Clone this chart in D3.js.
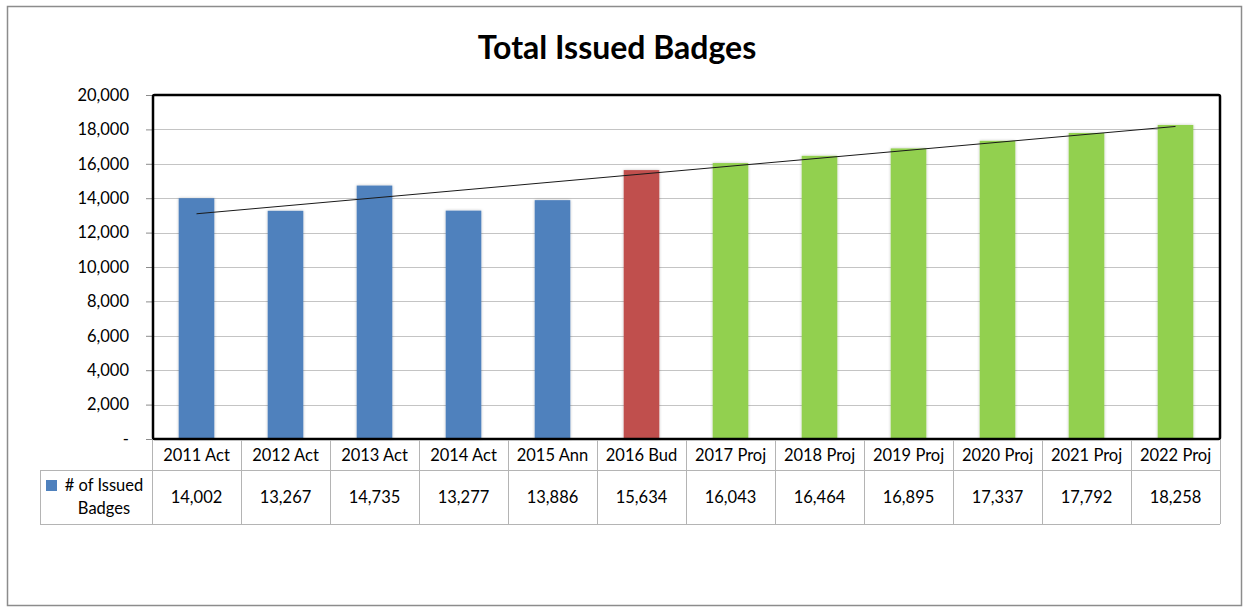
<!DOCTYPE html>
<html>
<head>
<meta charset="utf-8">
<script src="https://cdn.jsdelivr.net/npm/d3@7/dist/d3.min.js"></script>
<style>
  body { margin: 0; background: #fff; }
  svg { display: block; font-family: Lato, "Open Sans", sans-serif; }
</style>
</head>
<body>
<svg id="chart" width="1243" height="607"></svg>
<script>
// chart data
var categories = ['2011 Act', '2012 Act', '2013 Act', '2014 Act', '2015 Ann', '2016 Bud',
  '2017 Proj', '2018 Proj', '2019 Proj', '2020 Proj', '2021 Proj', '2022 Proj'];
var badges = [14002, 13267, 14735, 13277, 13886, 15634, 16043, 16464, 16895, 17337, 17792, 18258];
var kinds = ['act', 'act', 'act', 'act', 'act', 'bud', 'proj', 'proj', 'proj', 'proj', 'proj', 'proj'];
var yTicks = [0, 2000, 4000, 6000, 8000, 10000, 12000, 14000, 16000, 18000, 20000];
var seriesName = ['# of Issued', 'Badges'];

var colors = { act: '#4f81bd', bud: '#c0504d', proj: '#92d050' };
var fs = 16.5;

var svg = d3.select('#chart');

// outer chart frame
svg.append('rect')
    .attr('x', 7.5).attr('y', 6.5)
    .attr('width', 1234).attr('height', 599)
    .attr('fill', '#fff')
    .attr('stroke', '#8c8c8c')
    .attr('stroke-width', 1.5);

svg.append('text')
    .attr('x', 617).attr('y', 59)
    .attr('text-anchor', 'middle')
    .attr('font-size', 32)
    .attr('font-weight', 'bold')
    .text('Total Issued Badges');

var plot = { left: 152, top: 95, right: 1220, bottom: 439 };

var x = d3.scaleBand()
    .domain(categories)
    .range([plot.left, plot.right])
    .paddingInner(0.6)
    .paddingOuter(0.3);

var xCol = d3.scaleBand()
    .domain(categories)
    .range([plot.left, plot.right]);

var y = d3.scaleLinear()
    .domain([0, 20000])
    .range([plot.bottom, plot.top]);

var defs = svg.append('defs');
var shadow = defs.append('filter').attr('id', 'shadow')
    .attr('x', '-20%').attr('y', '-5%').attr('width', '140%').attr('height', '110%');
shadow.append('feGaussianBlur').attr('in', 'SourceAlpha').attr('stdDeviation', 1.5);
shadow.append('feComponentTransfer').append('feFuncA').attr('type', 'linear').attr('slope', 0.25);
var merge = shadow.append('feMerge');
merge.append('feMergeNode');
merge.append('feMergeNode').attr('in', 'SourceGraphic');

// gridlines
svg.append('g')
    .selectAll('line')
    .data(yTicks.slice(1, -1))
    .join('line')
    .attr('x1', plot.left).attr('x2', plot.right)
    .attr('y1', function (d) { return Math.round(y(d)) + 0.5; })
    .attr('y2', function (d) { return Math.round(y(d)) + 0.5; })
    .attr('stroke', '#c4c4c4')
    .attr('stroke-width', 1);

// y axis
var yAxis = d3.axisLeft(y)
    .tickValues(yTicks)
    .tickSize(6)
    .tickPadding(17)
    .tickFormat(function (d) { return d === 0 ? '-' : d3.format(',')(d); });

var gy = svg.append('g')
    .attr('transform', 'translate(' + plot.left + ',0)')
    .call(yAxis);
gy.select('.domain').remove();
gy.selectAll('.tick line').attr('stroke', '#8c8c8c');
gy.selectAll('.tick text')
    .attr('font-size', fs)
    .attr('fill', '#000')
    .attr('font-family', 'Lato, sans-serif');

// bars
svg.append('g')
    .selectAll('rect')
    .data(badges)
    .join('rect')
    .attr('x', function (d, i) { return x(categories[i]); })
    .attr('y', function (d) { return y(d); })
    .attr('width', x.bandwidth())
    .attr('height', function (d) { return y(0) - y(d); })
    .attr('fill', function (d, i) { return colors[kinds[i]]; })
    .attr('filter', 'url(#shadow)');

// linear trendline (least squares)
var n = badges.length;
var xs = d3.range(1, n + 1);
var mx = d3.mean(xs), my = d3.mean(badges);
var sxy = d3.sum(xs, function (v, i) { return (v - mx) * (badges[i] - my); });
var sxx = d3.sum(xs, function (v) { return (v - mx) * (v - mx); });
var slope = sxy / sxx, icpt = my - slope * mx;
var trend = [1, n].map(function (v) { return [v, icpt + slope * v]; });

var line = d3.line()
    .x(function (d) { return xCol(categories[d[0] - 1]) + xCol.bandwidth() / 2; })
    .y(function (d) { return y(d[1]); });

svg.append('path')
    .attr('d', line(trend))
    .attr('fill', 'none')
    .attr('stroke', '#1a1a1a')
    .attr('stroke-width', 1);

// plot frame
svg.append('rect')
    .attr('x', plot.left + 1).attr('y', plot.top)
    .attr('width', plot.right - plot.left - 1).attr('height', plot.bottom - plot.top)
    .attr('fill', 'none')
    .attr('stroke', '#000')
    .attr('stroke-width', 2.5)
    .attr('rx', 1.5);

// data table
var rowTop = 440, rowMid = 470, rowBot = 524, tableLeft = 40;
var grid = svg.append('g').attr('stroke', '#b4b4b4').attr('stroke-width', 1).attr('shape-rendering', 'crispEdges');
grid.append('line').attr('x1', tableLeft).attr('x2', plot.right).attr('y1', rowMid + 0.5).attr('y2', rowMid + 0.5);
grid.append('line').attr('x1', tableLeft).attr('x2', plot.right).attr('y1', rowBot + 0.5).attr('y2', rowBot + 0.5);
grid.append('line').attr('x1', tableLeft + 0.5).attr('x2', tableLeft + 0.5).attr('y1', rowMid).attr('y2', rowBot);
grid.selectAll('.col')
    .data(categories.concat(['end']))
    .join('line')
    .attr('class', 'col')
    .attr('x1', function (d, i) { return Math.round(plot.left + i * xCol.bandwidth()) + 0.5; })
    .attr('x2', function (d, i) { return Math.round(plot.left + i * xCol.bandwidth()) + 0.5; })
    .attr('y1', rowTop).attr('y2', rowBot);

svg.append('g')
    .selectAll('text')
    .data(categories)
    .join('text')
    .attr('x', function (d) { return xCol(d) + xCol.bandwidth() / 2; })
    .attr('y', 461)
    .attr('text-anchor', 'middle')
    .attr('font-size', fs)
    .attr('fill', '#000')
    .text(function (d) { return d; });

svg.append('g')
    .selectAll('text')
    .data(badges)
    .join('text')
    .attr('x', function (d, i) { return xCol(categories[i]) + xCol.bandwidth() / 2; })
    .attr('y', 503)
    .attr('text-anchor', 'middle')
    .attr('font-size', fs)
    .attr('fill', '#000')
    .text(function (d) { return d3.format(',')(d); });

// legend key in the table
svg.append('rect')
    .attr('x', 46).attr('y', 480)
    .attr('width', 11).attr('height', 11)
    .attr('fill', colors.act);
svg.append('g')
    .selectAll('text')
    .data(seriesName)
    .join('text')
    .attr('x', 104)
    .attr('y', function (d, i) { return 491 + i * 23; })
    .attr('text-anchor', 'middle')
    .attr('font-size', fs)
    .attr('fill', '#000')
    .text(function (d) { return d; });
</script>
</body>
</html>
